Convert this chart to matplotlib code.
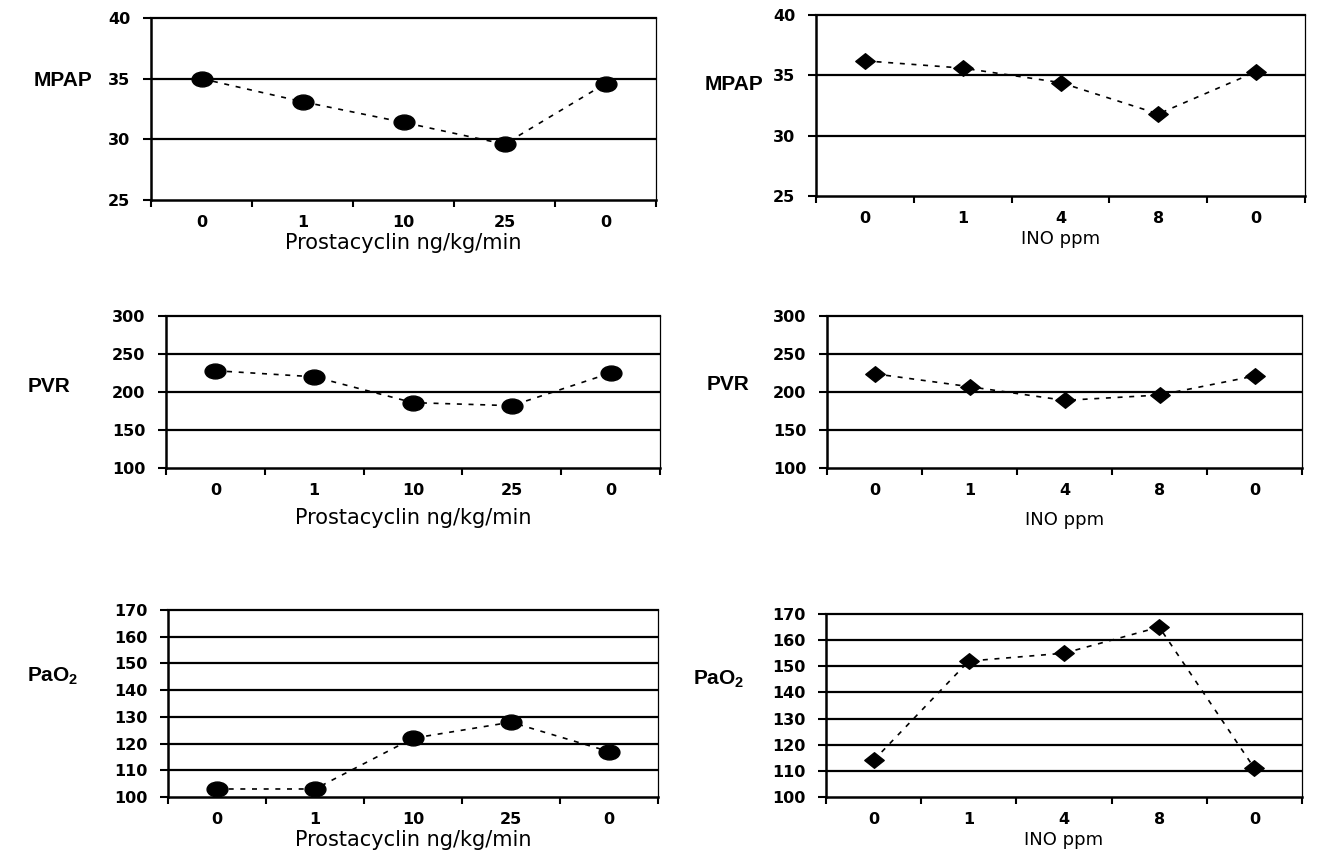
import matplotlib
matplotlib.use('Agg')
import matplotlib.pyplot as plt
from matplotlib.path import Path
from matplotlib.transforms import Affine2D

# -------------------------------------------
# data

prostacyclin_doses = ['0', '1', '10', '25', '0']
ino_doses = ['0', '1', '4', '8', '0']

mpap_prostacyclin = [35.0, 33.1, 31.4, 29.6, 34.6]
mpap_ino = [36.2, 35.6, 34.4, 31.8, 35.3]

pvr_prostacyclin = [228, 220, 186, 182, 225]
pvr_ino = [224, 207, 189, 196, 221]

pao2_prostacyclin = [103, 103, 122, 128, 117]
pao2_ino = [114, 152, 155, 165, 111]

mpap_ticks = [25, 30, 35, 40]
pvr_ticks = [100, 150, 200, 250, 300]
pao2_ticks = [100, 110, 120, 130, 140, 150, 160, 170]

# -------------------------------------------

W, H = 1323, 857
fig = plt.figure(figsize=(W / 100, H / 100), dpi=100)

ellipse = Path.unit_circle().transformed(Affine2D().scale(1.4, 1.0))
diamond = Path([(0, 1), (1.25, 0), (0, -1), (-1.25, 0), (0, 1)],
               [Path.MOVETO, Path.LINETO, Path.LINETO, Path.LINETO, Path.CLOSEPOLY])


def add_panel(box, labels, values, ticks, marker, msize, xlabel, xsize, xpad, ylabel, ylabel_xy):
    left, right, top, bottom = box
    ax = fig.add_axes([left / W, 1 - bottom / H, (right - left) / W, (bottom - top) / H])
    x = list(range(len(labels)))
    ax.plot(x, values, linestyle=(0, (3, 4)), color='black', lw=1.2,
            marker=marker, markersize=msize, markerfacecolor='black',
            markeredgecolor='black', zorder=3, clip_on=False)
    ax.set_xlim(-0.5, len(labels) - 0.5)
    ax.set_ylim(ticks[0], ticks[-1])
    ax.set_yticks(ticks)
    ax.set_xticks(x)
    ax.set_xticklabels(labels)
    ax.set_xticks([i - 0.5 for i in range(len(labels) + 1)], minor=True)
    ax.tick_params(axis='x', which='major', length=0, pad=11)
    ax.tick_params(axis='x', which='minor', length=5, width=1.5, direction='out')
    ax.tick_params(axis='y', length=6, width=1.5, direction='out', pad=9)
    for lab in ax.get_xticklabels() + ax.get_yticklabels():
        lab.set_fontweight('bold')
        lab.set_fontsize(11.5)
        lab.set_family('DejaVu Sans')
    for t in ticks[1:-1]:
        ax.axhline(t, color='black', lw=1.6, zorder=1)
    ax.spines['left'].set_linewidth(1.8)
    ax.spines['bottom'].set_linewidth(1.8)
    ax.spines['top'].set_linewidth(1.6)
    ax.spines['right'].set_linewidth(0.9)
    ax.set_xlabel(xlabel, fontsize=xsize, family='DejaVu Sans', labelpad=xpad)
    fig.text(ylabel_xy[0] / W, 1 - ylabel_xy[1] / H, ylabel, fontsize=15,
             fontweight='bold', family='Liberation Sans', ha='center', va='center')
    return ax


add_panel((151, 656, 18, 200), prostacyclin_doses, mpap_prostacyclin, mpap_ticks,
          ellipse, 15, 'Prostacyclin ng/kg/min', 15, 2, 'MPAP', (63, 80))
add_panel((816, 1305, 15, 196), ino_doses, mpap_ino, mpap_ticks,
          diamond, 14, 'INO ppm', 13, 3, 'MPAP', (734, 84))
add_panel((166, 660, 316, 468), prostacyclin_doses, pvr_prostacyclin, pvr_ticks,
          ellipse, 15, 'Prostacyclin ng/kg/min', 15, 7, 'PVR', (49, 386))
add_panel((827, 1302, 316, 468), ino_doses, pvr_ino, pvr_ticks,
          diamond, 14, 'INO ppm', 13, 9, 'PVR', (728, 384))
add_panel((168, 658, 610, 797), prostacyclin_doses, pao2_prostacyclin, pao2_ticks,
          ellipse, 15, 'Prostacyclin ng/kg/min', 15, 2, 'PaO$_\\mathregular{2}$', (53, 676))
add_panel((826, 1302, 614, 797), ino_doses, pao2_ino, pao2_ticks,
          diamond, 14, 'INO ppm', 13, 3, 'PaO$_\\mathregular{2}$', (719, 679))

fig.savefig('out.png', dpi=100)
